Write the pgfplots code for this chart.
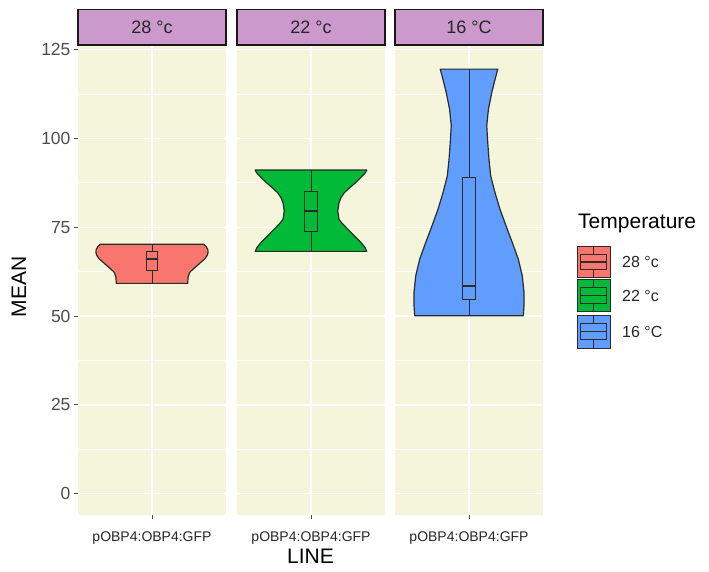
\documentclass[border=0pt]{standalone}
\usepackage{pgfplots}
\pgfplotsset{compat=1.18}
\usepackage{fontspec}
\setmainfont{Liberation Sans}
\definecolor{bg}{HTML}{F5F5DC}
\definecolor{strip}{HTML}{CC99CC}
\definecolor{c28}{HTML}{F8766D}
\definecolor{c22}{HTML}{00BA38}
\definecolor{c16}{HTML}{619CFF}
\definecolor{tickgray}{HTML}{4D4D4D}
\definecolor{outl}{HTML}{2B2B2B}
\pgfplotsset{
  panel/.style={
    scale only axis, width=148pt, height=470pt,
    xmin=0.4, xmax=1.6, ymin=-6, ymax=126.3,
    anchor=south west,
    axis background/.style={fill=bg},
    axis line style={draw=none},
    grid=both,
    major grid style={white, line width=1.4pt},
    minor grid style={white, line width=0.7pt},
    ytick={0,25,50,75,100,125},
    minor ytick={12.5,37.5,62.5,87.5,112.5},
    minor tick length=0pt,
    xtick={1},
    xticklabels={pOBP4:OBP4:GFP},
    tick pos=left,
    tick align=outside,
    major tick length=4pt,
    tick style={tickgray, line width=0.8pt},
    x tick label style={font=\fontsize{14}{16}\selectfont, text=black!85, yshift=-9pt},
    y tick label style={font=\fontsize{17.5}{19}\selectfont, text=tickgray},
    /pgf/number format/assume math mode=true,
  },
  inner/.style={yticklabels={}, ytick style={draw opacity=0}},
}
\begin{document}
\begin{tikzpicture}[x=1pt,y=1pt]
\path[use as bounding box] (0,0) rectangle (709,572);
% Panel 1: 28 C
\begin{axis}[panel, at={(78pt,57pt)}]
\addplot[fill=c28, draw=outl, line width=1.2pt, line join=round] coordinates {
(0.710,59.2) (0.708,60.9) (0.694,62.3) (0.667,63.2) (0.621,64.6) (0.575,66.0) (0.553,67.0) (0.545,67.9) (0.548,68.8) (0.560,69.5) (0.580,70.2)
(1.420,70.2) (1.440,69.5) (1.452,68.8) (1.455,67.9) (1.447,67.0) (1.425,66.0) (1.379,64.6) (1.333,63.2) (1.306,62.3) (1.292,60.9) (1.290,59.2)} -- cycle;
\addplot[outl, line width=1pt] coordinates {(1,59.2) (1,62.7)};
\addplot[outl, line width=1pt] coordinates {(1,68.3) (1,70.2)};
\addplot[fill=c28, draw=outl, line width=1pt] coordinates {(0.955,62.7) (1.045,62.7) (1.045,68.3) (0.955,68.3)} -- cycle;
\addplot[outl, line width=2pt] coordinates {(0.955,66.1) (1.045,66.1)};
\end{axis}
% Panel 2: 22 C
\begin{axis}[panel, inner, at={(237pt,57pt)}]
\addplot[fill=c22, draw=outl, line width=1.2pt, line join=round] coordinates {
(0.548,68.2) (0.562,69.3) (0.587,70.4) (0.620,71.6) (0.660,73.0) (0.700,74.4) (0.740,75.8) (0.773,77.2) (0.783,79.6) (0.773,81.9) (0.757,83.3) (0.730,84.7) (0.690,86.0) (0.640,87.5) (0.610,88.5) (0.585,89.4) (0.560,90.3) (0.547,91.1)
(1.453,91.1) (1.440,90.3) (1.415,89.4) (1.390,88.5) (1.360,87.5) (1.310,86.0) (1.270,84.7) (1.243,83.3) (1.227,81.9) (1.217,79.6) (1.227,77.2) (1.260,75.8) (1.300,74.4) (1.340,73.0) (1.380,71.6) (1.413,70.4) (1.438,69.3) (1.452,68.2)} -- cycle;
\addplot[outl, line width=1pt] coordinates {(1,68.2) (1,73.7)};
\addplot[outl, line width=1pt] coordinates {(1,85.2) (1,91.1)};
\addplot[fill=c22, draw=outl, line width=1pt] coordinates {(0.948,73.7) (1.052,73.7) (1.052,85.2) (0.948,85.2)} -- cycle;
\addplot[outl, line width=2pt] coordinates {(0.948,79.6) (1.052,79.6)};
\end{axis}
% Panel 3: 16 C
\begin{axis}[panel, inner, at={(395pt,57pt)}]
\addplot[fill=c16, draw=outl, line width=1.2pt, line join=round] coordinates {
(0.560,50.1) (0.554,52.9) (0.554,56.6) (0.568,61.3) (0.600,66.0) (0.649,70.7) (0.700,75.4) (0.749,80.1) (0.789,84.7) (0.824,89.4) (0.838,94.1) (0.848,98.8) (0.856,103.5) (0.843,108.1) (0.816,112.8) (0.789,116.6) (0.767,119.5)
(1.233,119.5) (1.211,116.6) (1.184,112.8) (1.157,108.1) (1.144,103.5) (1.152,98.8) (1.162,94.1) (1.176,89.4) (1.211,84.7) (1.251,80.1) (1.300,75.4) (1.351,70.7) (1.400,66.0) (1.432,61.3) (1.446,56.6) (1.446,52.9) (1.440,50.1)} -- cycle;
\addplot[outl, line width=1pt] coordinates {(1,50.1) (1,54.6)};
\addplot[outl, line width=1pt] coordinates {(1,88.9) (1,119.5)};
\addplot[fill=c16, draw=outl, line width=1pt] coordinates {(0.948,54.6) (1.052,54.6) (1.052,88.9) (0.948,88.9)} -- cycle;
\addplot[outl, line width=2pt] coordinates {(0.948,58.5) (1.052,58.5)};
\end{axis}
% strips
\draw[fill=strip, draw=black!90, line width=1.5pt] (78,527) rectangle (226,562.5);
\draw[fill=strip, draw=black!90, line width=1.5pt] (237,527) rectangle (385,562.5);
\draw[fill=strip, draw=black!90, line width=1.5pt] (395,527) rectangle (543,562.5);
\node[text=black!85] at (152,544.7) {\fontsize{18}{20}\selectfont 28 °c};
\node[text=black!85] at (311,544.7) {\fontsize{18}{20}\selectfont 22 °c};
\node[text=black!85] at (469,544.7) {\fontsize{18}{20}\selectfont 16 °C};
% axis titles
\node[rotate=90] at (19,285) {\fontsize{21}{23}\selectfont MEAN};
\node at (310.5,16) {\fontsize{21}{23}\selectfont LINE};
% legend
\node[anchor=base west, inner sep=0pt] at (578,343) {\fontsize{21}{23}\selectfont Temperature};
\newcommand{\legkey}[4]{%
  \draw[fill=#1, draw=outl, line width=0.9pt] (577.5,#3) rectangle (610,#2);
  \draw[draw=outl, line width=0.8pt] (580.75,{#3+0.25*(#2-#3)}) rectangle (606.75,{#3+0.75*(#2-#3)});
  \draw[draw=outl, line width=1.2pt] (580.75,{#3+0.5*(#2-#3)}) -- (606.75,{#3+0.5*(#2-#3)});
  \draw[draw=outl, line width=0.8pt] (593.75,#3) -- (593.75,{#3+0.25*(#2-#3)});
  \draw[draw=outl, line width=0.8pt] (593.75,{#3+0.75*(#2-#3)}) -- (593.75,#2);
  \node[anchor=west, inner sep=0pt, text=black!85] at (622,{0.5*(#2+#3)}) {\fontsize{16}{18}\selectfont #4};
}
\legkey{c28}{325.5}{294.5}{28 °c}
\legkey{c22}{292.5}{260.5}{22 °c}
\legkey{c16}{257}{224}{16 °C}
\end{tikzpicture}
\end{document}
